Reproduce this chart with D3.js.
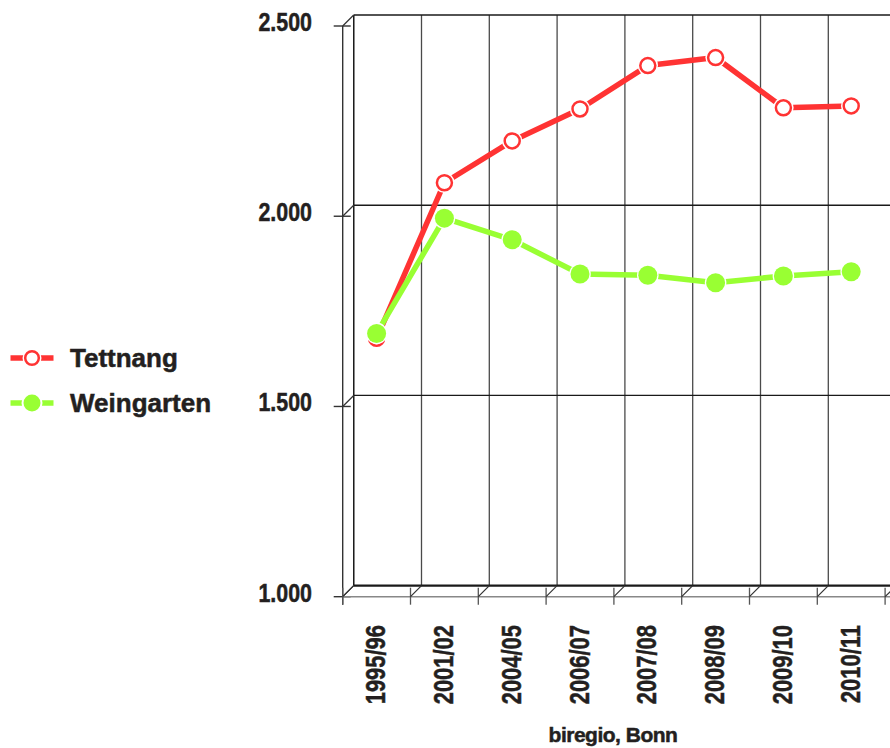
<html lang='de'>
    <head>
        <script src="https://d3js.org/d3.v7.min.js" charset="utf-8"></script>
        <style>
        body {
          margin: 0;
          background: #fff;
        }
        text {
          font-family: 'Liberation Sans', Arial, sans-serif;
          font-weight: bold;
          fill: #231f20;
          stroke: #231f20;
          stroke-width: 0.5px;
        }
        </style>
    </head>
    <body>
        <script>
            // data
            var years = ["1995/96", "2001/02", "2004/05", "2006/07", "2007/08", "2008/09", "2009/10", "2010/11"]
            var tettnang = [1679, 2088, 2198, 2282, 2396, 2417, 2285, 2290]
            var weingarten = [1692, 1995, 1938, 1848, 1845, 1825, 1843, 1854]
            var yTicks = [1000, 1500, 2000, 2500]
            var seriesNames = ["Tettnang", "Weingarten"]
            var seriesColors = ["#ff3333", "#99ff33"]
            var source = "biregio, Bonn"

            var width = 890
            var height = 748

            // fake 3d: back wall is shifted by depth
            var depthX = 11
            var depthY = -11

            var svg = d3.select("body")
                        .append("svg")
                        .attr("width", width)
                        .attr("height", height)

            var x = d3.scaleBand()
                .domain(years)
                .range([342.7, 342.7 + 67.8 * years.length])

            var y = d3.scaleLinear()
                .domain([1000, 2500])
                .range([596.7, 26])

            var yLabel = function(d) { return d3.format(",.0f")(d).replace(/,/g, ".") }

            var xEdges = years.map(function(d) { return x(d) }).concat([x.range()[1]])

            // back wall: vertical grid lines
            svg.selectAll(".vgrid")
               .data(xEdges)
               .enter().append("line")
               .attr("x1", function(d) { return d + depthX })
               .attr("x2", function(d) { return d + depthX })
               .attr("y1", y(2500) + depthY)
               .attr("y2", y(1000) + depthY)
               .style("stroke", "#4a4a4a")
               .style("stroke-width", 1.3)

            // back wall: horizontal grid lines
            svg.selectAll(".hgrid")
               .data(yTicks)
               .enter().append("line")
               .attr("x1", x.range()[0] + depthX)
               .attr("x2", width)
               .attr("y1", function(d) { return y(d) + depthY })
               .attr("y2", function(d) { return y(d) + depthY })
               .style("stroke", "#1a1a1a")
               .style("stroke-width", function(d) { return d == 1000 ? 2.2 : 1.3 })

            // left wall edge
            svg.append("line")
               .attr("x1", x.range()[0] + depthX).attr("x2", x.range()[0] + depthX)
               .attr("y1", y(2500) + depthY).attr("y2", y(1000) + depthY)
               .style("stroke", "#1a1a1a").style("stroke-width", 1.3)

            // y axis (front)
            svg.append("line")
               .attr("x1", x.range()[0]).attr("x2", x.range()[0])
               .attr("y1", y(2500)).attr("y2", y(1000) + 8)
               .style("stroke", "#333").style("stroke-width", 1.4)

            svg.selectAll(".ytick")
               .data(yTicks)
               .enter().append("line")
               .attr("x1", x.range()[0] - 9)
               .attr("x2", x.range()[0] + 8)
               .attr("y1", function(d) { return y(d) })
               .attr("y2", function(d) { return y(d) })
               .style("stroke", "#333").style("stroke-width", 1.4)

            svg.selectAll(".ydiag")
               .data(yTicks)
               .enter().append("line")
               .attr("x1", x.range()[0])
               .attr("x2", x.range()[0] + depthX)
               .attr("y1", function(d) { return y(d) })
               .attr("y2", function(d) { return y(d) + depthY })
               .style("stroke", "#333").style("stroke-width", 1.2)

            svg.selectAll(".ylabel")
               .data(yTicks)
               .enter().append("text")
               .attr("transform", function(d) { return "translate(312," + (y(d) + 5) + ") scale(0.84,1)" })
               .attr("text-anchor", "end")
               .attr("font-size", "25.5px")
               .text(yLabel)

            // x axis (front)
            svg.append("line")
               .attr("x1", x.range()[0]).attr("x2", width)
               .attr("y1", y(1000)).attr("y2", y(1000))
               .style("stroke", "#888").style("stroke-width", 1.6)

            svg.selectAll(".xtick")
               .data(xEdges)
               .enter().append("line")
               .attr("x1", function(d) { return d })
               .attr("x2", function(d) { return d })
               .attr("y1", y(1000) - 9)
               .attr("y2", y(1000) + 8)
               .style("stroke", "#555").style("stroke-width", 1.3)

            svg.selectAll(".xdiag")
               .data(xEdges)
               .enter().append("line")
               .attr("x1", function(d) { return d })
               .attr("x2", function(d) { return d + depthX })
               .attr("y1", y(1000))
               .attr("y2", y(1000) + depthY)
               .style("stroke", "#333").style("stroke-width", 1.2)

            svg.selectAll(".xlabel")
               .data(years)
               .enter().append("text")
               .attr("transform", function(d) {
                 return "translate(" + (x(d) + x.bandwidth() / 2 + 8.5) + ",625) rotate(-90) scale(0.77,1)"
               })
               .attr("text-anchor", "end")
               .attr("font-size", "28.5px")
               .text(function(d) { return d })

            svg.append("text")
               .attr("x", 613)
               .attr("y", 742)
               .attr("text-anchor", "middle")
               .attr("font-size", "21px")
               .attr("letter-spacing", "-0.5px")
               .text(source)

            // series
            var line = d3.line()
                .x(function(d, i) { return x(years[i]) + x.bandwidth() / 2 })
                .y(function(d) { return y(d) })

            var allSeries = [tettnang, weingarten]

            allSeries.forEach(function(values, s) {
              var g = svg.append("g")
              g.append("path")
               .datum(values)
               .attr("d", line)
               .style("fill", "none")
               .style("stroke", seriesColors[s])
               .style("stroke-width", 5.5)
               .style("stroke-linejoin", "round")

              g.selectAll(".halo")
               .data(values)
               .enter().append("circle")
               .attr("cx", function(d, i) { return x(years[i]) + x.bandwidth() / 2 })
               .attr("cy", function(d) { return y(d) })
               .attr("r", s == 0 ? 10.2 : 10.8)
               .style("fill", "#fff")

              g.selectAll(".dot")
               .data(values)
               .enter().append("circle")
               .attr("cx", function(d, i) { return x(years[i]) + x.bandwidth() / 2 })
               .attr("cy", function(d) { return y(d) })
               .attr("r", s == 0 ? 7.5 : 9.5)
               .style("fill", s == 0 ? "#fff" : seriesColors[s])
               .style("stroke", s == 0 ? seriesColors[s] : "none")
               .style("stroke-width", 2.5)
            })

            // legend
            var legend = svg.selectAll(".legend")
               .data(seriesNames)
               .enter().append("g")
               .attr("transform", function(d, i) { return "translate(0," + (358 + i * 45) + ")" })

            legend.append("line")
               .attr("x1", 10.5).attr("x2", 53.5)
               .attr("y1", 0).attr("y2", 0)
               .style("stroke", function(d, i) { return seriesColors[i] })
               .style("stroke-width", 5.5)

            legend.append("circle")
               .attr("cx", 32).attr("cy", 0)
               .attr("r", function(d, i) { return i == 0 ? 9.5 : 10.5 })
               .style("fill", "#fff")

            legend.append("circle")
               .attr("cx", 32).attr("cy", 0)
               .attr("r", function(d, i) { return i == 0 ? 6.8 : 8.5 })
               .style("fill", function(d, i) { return i == 0 ? "#fff" : seriesColors[i] })
               .style("stroke", function(d, i) { return i == 0 ? seriesColors[i] : "none" })
               .style("stroke-width", 2.5)

            legend.append("text")
               .attr("x", 70)
               .attr("y", 9)
               .attr("font-size", "26px")
               .text(function(d) { return d })
        </script>
    </body>
</html>
